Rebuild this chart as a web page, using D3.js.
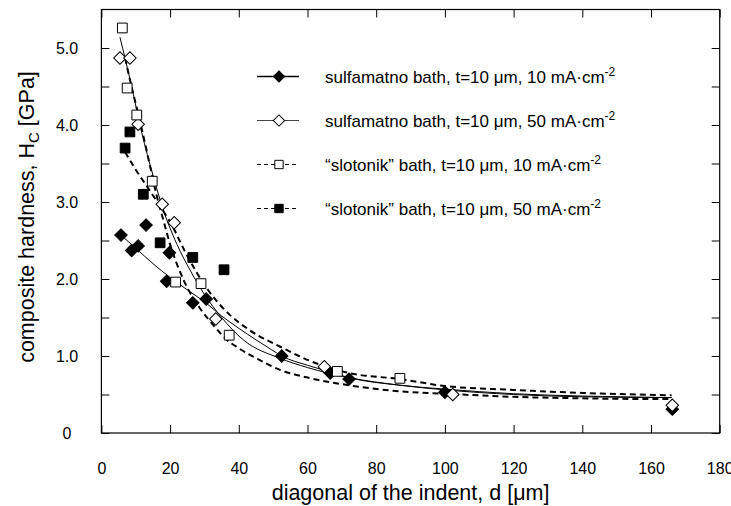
<!DOCTYPE html>
<html>
<head>
<meta charset="utf-8">
<script src="https://cdn.jsdelivr.net/npm/d3@7"></script>
<style>
  body { margin: 0; background: #fff; }
  text { font-family: Arial, "Liberation Sans", sans-serif; fill: #000; }
</style>
</head>
<body>
<svg id="chart" width="731" height="506"></svg>
<script>
// tick values and labels
var xTicks = [0, 20, 40, 60, 80, 100, 120, 140, 160, 180];
var yTicks = [0, 1, 2, 3, 4, 5];
var yTickLabels = ["0", "1.0", "2.0", "3.0", "4.0", "5.0"];
var yMinorTicks = [0.5, 1.5, 2.5, 3.5, 4.5];

// measured points [d (um), Hc (GPa)]
var sulf10 = [[5.7, 2.57], [8.8, 2.37], [10.7, 2.43], [13.0, 2.70], [19.0, 1.97],
  [19.8, 2.34], [26.6, 1.69], [30.5, 1.74], [52.5, 1.00], [66.6, 0.78],
  [72.1, 0.70], [100.0, 0.53], [166.2, 0.31]];
var sulf50 = [[5.4, 4.87], [8.3, 4.87], [10.7, 4.01], [17.7, 2.97], [21.2, 2.73],
  [33.3, 1.48], [64.9, 0.86], [102.3, 0.50], [166.2, 0.36]];
var slot10 = [[6.1, 5.26], [7.5, 4.48], [10.3, 4.13], [14.8, 3.27], [21.6, 1.96],
  [29.0, 1.94], [37.2, 1.27], [68.7, 0.80], [86.9, 0.71]];
var slot50 = [[6.9, 3.70], [8.3, 3.91], [12.2, 3.10], [17.1, 2.47], [26.6, 2.28],
  [35.7, 2.12]];

// fitted curves
var fitSulf10 = [[5.7, 2.57], [10, 2.40], [15, 2.20], [20, 2.02], [25, 1.86], [30.7, 1.68],
  [35, 1.52], [40, 1.36], [45, 1.21], [49.6, 1.08], [52.5, 1.00], [60, 0.88], [66, 0.80],
  [72, 0.72], [87, 0.62], [100, 0.57], [120, 0.51], [140, 0.48], [166, 0.46]];
var fitSulf50 = [[5.4, 5.14], [8.5, 4.56], [11.7, 3.91], [15, 3.35], [18, 2.90], [21.9, 2.46],
  [26, 2.10], [30, 1.80], [35, 1.50], [41.3, 1.21], [52, 0.97], [60, 0.85], [72, 0.72],
  [87, 0.62], [100, 0.56], [120, 0.50], [140, 0.47], [166, 0.46]];
var fitSlot10 = [[6.9, 4.87], [8.5, 4.55], [10.3, 4.22], [12, 3.90], [14, 3.50], [16, 3.10],
  [18, 2.77], [20, 2.45], [24, 1.98], [28.7, 1.62], [33, 1.38], [36.5, 1.21], [40, 1.10],
  [46, 0.95], [52, 0.82], [60, 0.72], [72, 0.62], [87, 0.54], [100, 0.51], [120, 0.47],
  [140, 0.45], [166, 0.44]];
var fitSlot50 = [[6.9, 3.65], [10, 3.42], [13.6, 3.18], [17, 2.95], [20, 2.74], [25, 2.30],
  [31, 1.86], [37, 1.55], [43, 1.34], [53, 1.10], [60, 0.95], [72, 0.78], [87, 0.70],
  [100, 0.61], [120, 0.56], [140, 0.52], [166, 0.49]];

var legendLabels = ["sulfamatno bath, t=10 \u03bcm, 10 mA\u00b7cm",
  "sulfamatno bath, t=10 \u03bcm, 50 mA\u00b7cm",
  "\u201cslotonik\u201d bath, t=10 \u03bcm, 10 mA\u00b7cm",
  "\u201cslotonik\u201d bath, t=10 \u03bcm, 50 mA\u00b7cm"];

var svg = d3.select("#chart");
var plotLeft = 101.4, plotRight = 719.7, plotTop = 9.5, plotBottom = 433;
var font = "Arial, 'Liberation Sans', sans-serif";

var x = d3.scaleLinear().domain([0, 180]).range([plotLeft, plotRight]);
var y = d3.scaleLinear().domain([0, 5.5]).range([plotBottom, plotTop]);

// diamonds are squares turned by 45 degrees
var series = [
  { pts: sulf10, fit: fitSulf10, turn: 45, fill: "#000", dash: null, lw: 1 },
  { pts: sulf50, fit: fitSulf50, turn: 45, fill: "#fff", dash: null, lw: 1 },
  { pts: slot10, fit: fitSlot10, turn: 0, fill: "#fff", dash: "6,4", lw: 2 },
  { pts: slot50, fit: fitSlot50, turn: 0, fill: "#000", dash: "6,4", lw: 2 }
];

function markerPath(s) {
  return d3.symbol().type(d3.symbolSquare).size(s.turn ? 78 : 95)();
}

// axes with inward ticks
function styleAxis(g) {
  g.select(".domain").remove();
  g.selectAll(".tick line").attr("stroke", "#000");
  g.selectAll("text").attr("font-size", 16).attr("fill", "#000").attr("font-family", font);
}

svg.append("g")
    .attr("transform", "translate(0," + plotBottom + ")")
    .call(d3.axisBottom(x).tickValues(xTicks).tickSize(-8).tickPadding(30))
    .call(styleAxis);

svg.append("g")
    .attr("transform", "translate(0," + plotTop + ")")
    .call(d3.axisTop(x).tickValues(xTicks).tickSize(-8).tickFormat(""))
    .call(styleAxis);

svg.append("g")
    .attr("transform", "translate(" + plotLeft + ",0)")
    .call(d3.axisLeft(y).tickValues(yTicks.concat(yMinorTicks)).tickSize(-8)
      .tickFormat(function (d) {
        var i = yTicks.indexOf(d);
        return i < 0 ? "" : yTickLabels[i];
      }))
    .call(styleAxis)
    .selectAll("text")
      .attr("text-anchor", "middle")
      .attr("x", 67 - plotLeft);

svg.append("g")
    .attr("transform", "translate(" + plotRight + ",0)")
    .call(d3.axisRight(y).tickValues(yTicks.concat(yMinorTicks)).tickSize(-8).tickFormat(""))
    .call(styleAxis);

svg.append("rect")
    .attr("x", plotLeft).attr("y", plotTop)
    .attr("width", plotRight - plotLeft).attr("height", plotBottom - plotTop)
    .attr("fill", "none").attr("stroke", "#000").attr("stroke-width", 1.2);

// fitted curves
var line = d3.line()
    .x(function (d) { return x(d[0]); })
    .y(function (d) { return y(d[1]); })
    .curve(d3.curveMonotoneX);

svg.selectAll("path.fit")
    .data(series)
    .enter()
    .append("path")
    .attr("class", "fit")
    .attr("d", function (s) { return line(s.fit); })
    .attr("fill", "none")
    .attr("stroke", "#000")
    .attr("stroke-width", function (s) { return s.lw; })
    .attr("stroke-dasharray", function (s) { return s.dash; });

// markers
series.forEach(function (s) {
  svg.append("g").selectAll("path")
      .data(s.pts)
      .enter()
      .append("path")
      .attr("transform", function (d) {
        return "translate(" + x(d[0]) + "," + y(d[1]) + ") rotate(" + s.turn + ")";
      })
      .attr("d", markerPath(s))
      .attr("fill", s.fill)
      .attr("stroke", "#000")
      .attr("stroke-width", 1);
});

// legend
var legend = svg.append("g");
legendLabels.forEach(function (label, i) {
  var s = series[i];
  var ly = 76.5 + i * 44;
  legend.append("line")
      .attr("x1", 257).attr("x2", 299)
      .attr("y1", ly).attr("y2", ly)
      .attr("stroke", i === 1 ? "#444" : "#000")
      .attr("stroke-width", i === 0 ? 1.5 : 1)
      .attr("stroke-dasharray", s.dash ? "4,3" : null);
  legend.append("path")
      .attr("transform", "translate(279," + ly + ") rotate(" + s.turn + ")")
      .attr("d", d3.symbol().type(d3.symbolSquare).size(s.turn ? 64 : 70))
      .attr("fill", s.fill)
      .attr("stroke", "#000");
  var t = legend.append("text")
      .attr("x", 325).attr("y", ly + 6)
      .attr("font-size", 17);
  t.append("tspan").text(label);
  t.append("tspan").attr("dy", -7).attr("font-size", 12).text("-2");
});

// axis titles
svg.append("text")
    .attr("x", (plotLeft + plotRight) / 2).attr("y", 500)
    .attr("text-anchor", "middle")
    .attr("font-size", 21.5)
    .text("diagonal of the indent, d [\u03bcm]");

var yt = svg.append("text")
    .attr("transform", "translate(34,217) rotate(-90)")
    .attr("text-anchor", "middle")
    .attr("font-size", 21.5);
yt.append("tspan").text("composite hardness, H");
yt.append("tspan").attr("dy", 5).attr("font-size", 15).text("C");
yt.append("tspan").attr("dy", -5).text(" [GPa]");
</script>
</body>
</html>
